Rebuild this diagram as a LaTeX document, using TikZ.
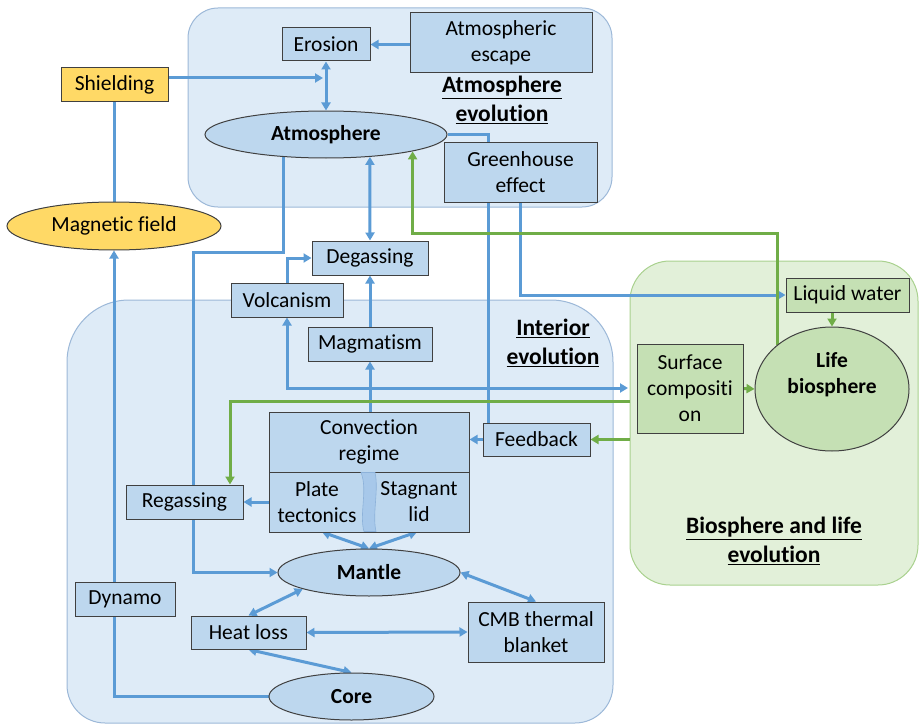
\documentclass[tikz,border=0pt]{standalone}
\usepackage{fontspec}
\setmainfont{Carlito}[Ligatures=NoCommon]
\usetikzlibrary{arrows.meta,shapes.geometric,calc}
\definecolor{cblue}{HTML}{5B9BD5}
\definecolor{cgreen}{HTML}{70AD47}
\definecolor{nodeblue}{HTML}{BDD7EE}
\definecolor{grpblue}{HTML}{DEEBF7}
\definecolor{grpblueb}{HTML}{9CB8D8}
\definecolor{grpgreen}{HTML}{E2F0D9}
\definecolor{grpgreenb}{HTML}{A9D18E}
\definecolor{nodegreen}{HTML}{C5E0B4}
\definecolor{gold}{HTML}{FFD966}
\definecolor{edgec}{HTML}{404040}
\definecolor{wave}{HTML}{A7C8EA}
\definecolor{waveb}{HTML}{8DB2DA}
\pgfdeclarelayer{bg}
\pgfdeclarelayer{conn}
\pgfsetlayers{bg,conn,main}
\begin{document}
\begin{tikzpicture}[x=1pt,y=-1pt,
  font=\fontsize{21.5}{26}\selectfont,
  box/.style={draw=edgec, line width=1pt, fill=nodeblue, inner sep=0pt, align=center, text=black},
  gbox/.style={box, fill=nodegreen},
  ybox/.style={box, fill=gold},
  ell/.style={ellipse, draw=edgec, line width=1pt, fill=nodeblue, inner sep=0pt, align=center, text=black},
  boldtxt/.style={font=\fontsize{21.5}{26}\selectfont\bfseries},
  lab/.style={align=center, text=black, font=\fontsize{23.5}{28.5}\selectfont\bfseries},
  plain/.style={align=center, text=black, inner sep=0pt},
  grp/.style={draw=grpblueb, line width=1pt, fill=grpblue},
  ggrp/.style={draw=grpgreenb, line width=1pt, fill=grpgreen},
  con/.style={line width=3pt, draw=cblue},
  barrow/.style={con, -{Triangle[length=8pt,width=9pt]}},
  bboth/.style={con, {Triangle[length=8pt,width=9pt]}-{Triangle[length=8pt,width=9pt]}},
  gcon/.style={line width=3pt, draw=cgreen},
  garrow/.style={gcon, -{Triangle[length=8pt,width=9pt]}}
]
\useasboundingbox (0,0) rectangle (919,725);

% group boxes
\begin{pgfonlayer}{bg}
\node[grp, rounded corners=30pt, minimum width=424pt, minimum height=199pt, inner sep=0pt] (atmg) at (400,107.5) {};
\path[grp] (67,500) [rounded corners=62pt] -- (67,300) -- (613,300) -- (613,500)
   [rounded corners=38pt] -- (613,723) -- (67,723) -- cycle;
\node[ggrp, rounded corners=40pt, minimum width=288pt, minimum height=324pt, inner sep=0pt] (bio) at (774,423) {};
\end{pgfonlayer}

% group labels
\node[lab] (atmlab) at (502,100) {\underline{Atmosphere}\\\underline{evolution}};
\node[lab] (intlab) at (553,343) {\underline{Interior}\\\underline{evolution}};
\node[lab] (biolab) at (774,541) {\underline{Biosphere and life}\\\underline{evolution}};

% nodes
\node[box, minimum width=88pt, minimum height=33pt] (ero) at (326,44.5) {Erosion};
\node[box, minimum width=182pt, minimum height=60pt] (esc) at (501,43) {Atmospheric\\escape};
\node[ybox, minimum width=107pt, minimum height=34pt] (shi) at (114.5,85) {Shielding};
\node[ell, boldtxt, minimum width=242pt, minimum height=47pt] (atm) at (326,134.5) {Atmosphere};
\node[box, minimum width=153pt, minimum height=60pt] (gh) at (520.5,172) {Greenhouse\\effect};
\node[ell, fill=gold, minimum width=214pt, minimum height=48pt] (mfield) at (114,226) {Magnetic field};
\node[box, minimum width=116pt, minimum height=34pt] (deg) at (370,258) {Degassing};
\node[box, minimum width=112pt, minimum height=34pt] (volc) at (287,300) {Volcanism};
\node[box, minimum width=124pt, minimum height=34pt] (magm) at (370,344) {Magmatism};
\node[box, minimum width=200pt, minimum height=60pt] (convT) at (369,442) {Convection\\regime};
\node[box, minimum width=200pt, minimum height=60pt] (convB) at (369,502) {};
\node[plain] (plate) at (317,502) {Plate\\tectonics};
\node[plain] (stag) at (419,502) {Stagnant\\lid};
\coordinate (plateS) at (322,532);
\coordinate (stagS) at (417,532);
\path[fill=wave, draw=waveb, line width=0.6pt]
  (361,472.5) .. controls (368,490) and (359,514) .. (364,531.5) -- (376,531.5)
  .. controls (372,514) and (379,490) .. (375,472.5) -- cycle;
\node[box, minimum width=117pt, minimum height=34pt] (reg) at (184.5,502) {Regassing};
\node[box, minimum width=107pt, minimum height=33pt] (fb) at (536.5,439.5) {Feedback};
\node[gbox, minimum width=123pt, minimum height=34pt] (liq) at (847.5,295) {Liquid water};
\node[gbox, minimum width=106pt, minimum height=89pt] (surf) at (690,388.5) {Surface\\compositi\\on};
\node[ell, fill=nodegreen, minimum width=154pt, minimum height=124pt] (life) at (832,389) {};
\node[plain, boldtxt] (lifetxt) at (832,375) {Life\\biosphere};
\node[ell, boldtxt, minimum width=182pt, minimum height=47pt] (mantle) at (369,572.5) {Mantle};
\node[box, minimum width=100pt, minimum height=34pt] (dyn) at (125,599) {Dynamo};
\node[box, minimum width=115pt, minimum height=33pt] (heat) at (248.5,632.5) {Heat loss};
\node[box, minimum width=136pt, minimum height=60pt] (cmb) at (536,632) {CMB thermal\\blanket};
\node[ell, boldtxt, minimum width=165pt, minimum height=47pt] (core) at (351.5,696.5) {Core};

% helper coordinates
\coordinate (shE) at (323,78);
\coordinate (bendA) at (193,252);
\coordinate (sfE) at (628,388);
\coordinate (gx) at (488,0);
\coordinate (gy) at (0,233);
\coordinate (gs) at (630,401);
\coordinate (rx) at (230,0);

% connectors
\begin{pgfonlayer}{conn}
\draw[barrow] (ero.east -| esc.west) -- (ero.east);
\draw[bboth] (ero.south) -- (atm.north);
\draw[barrow] (shi.east |- shE) -- (shE);
\draw[con] (mfield.north) -- (mfield.north |- shi.south);
\draw[barrow] (mfield.south |- dyn.north) -- (mfield.south);
\draw[con] (core.west) -| (mfield.south |- dyn.south);
\draw[barrow] (atm.208) |- (bendA) |- (mantle.west);
\draw[bboth] (atm.333.5) -- (deg.north);
\draw[barrow] (volc.north) |- (deg.west);
\draw[barrow] (magm.north) -- (deg.south);
\draw[barrow] (magm.south |- convT.north) -- (magm.south);
\draw[bboth] (volc.south) |- (sfE);
\draw[con] (atm.east) -| (gh.north -| gx);
\draw[con] (gh.south -| gx) -- (fb.north -| gx);
\draw[barrow] (fb.west) -- (convT.east |- fb.west);
\draw[barrow] (gh.south) |- (liq.west);
\draw[barrow] (convB.west) -- (reg.east);
\draw[bboth] (mantle.north) -- (plateS);
\draw[bboth] (mantle.north) -- (stagS);
\draw[bboth] (mantle.194) -- (heat.north);
\draw[bboth] (mantle.east) -- (cmb.north);
\draw[bboth] (heat.east) -- (cmb.west);
\draw[bboth] (heat.south) -- (core.north);
% green
\draw[garrow] (life.141) |- (atm.349 |- gy) -- (atm.349);
\draw[garrow] (life.north |- liq.south) -- (life.north);
\draw[garrow] (surf.east) -- (life.west);
\draw[garrow] (gs) -| (reg.north -| rx);
\draw[garrow] (bio.west |- fb.east) -- (fb.east);
\end{pgfonlayer}
\end{tikzpicture}
\end{document}
